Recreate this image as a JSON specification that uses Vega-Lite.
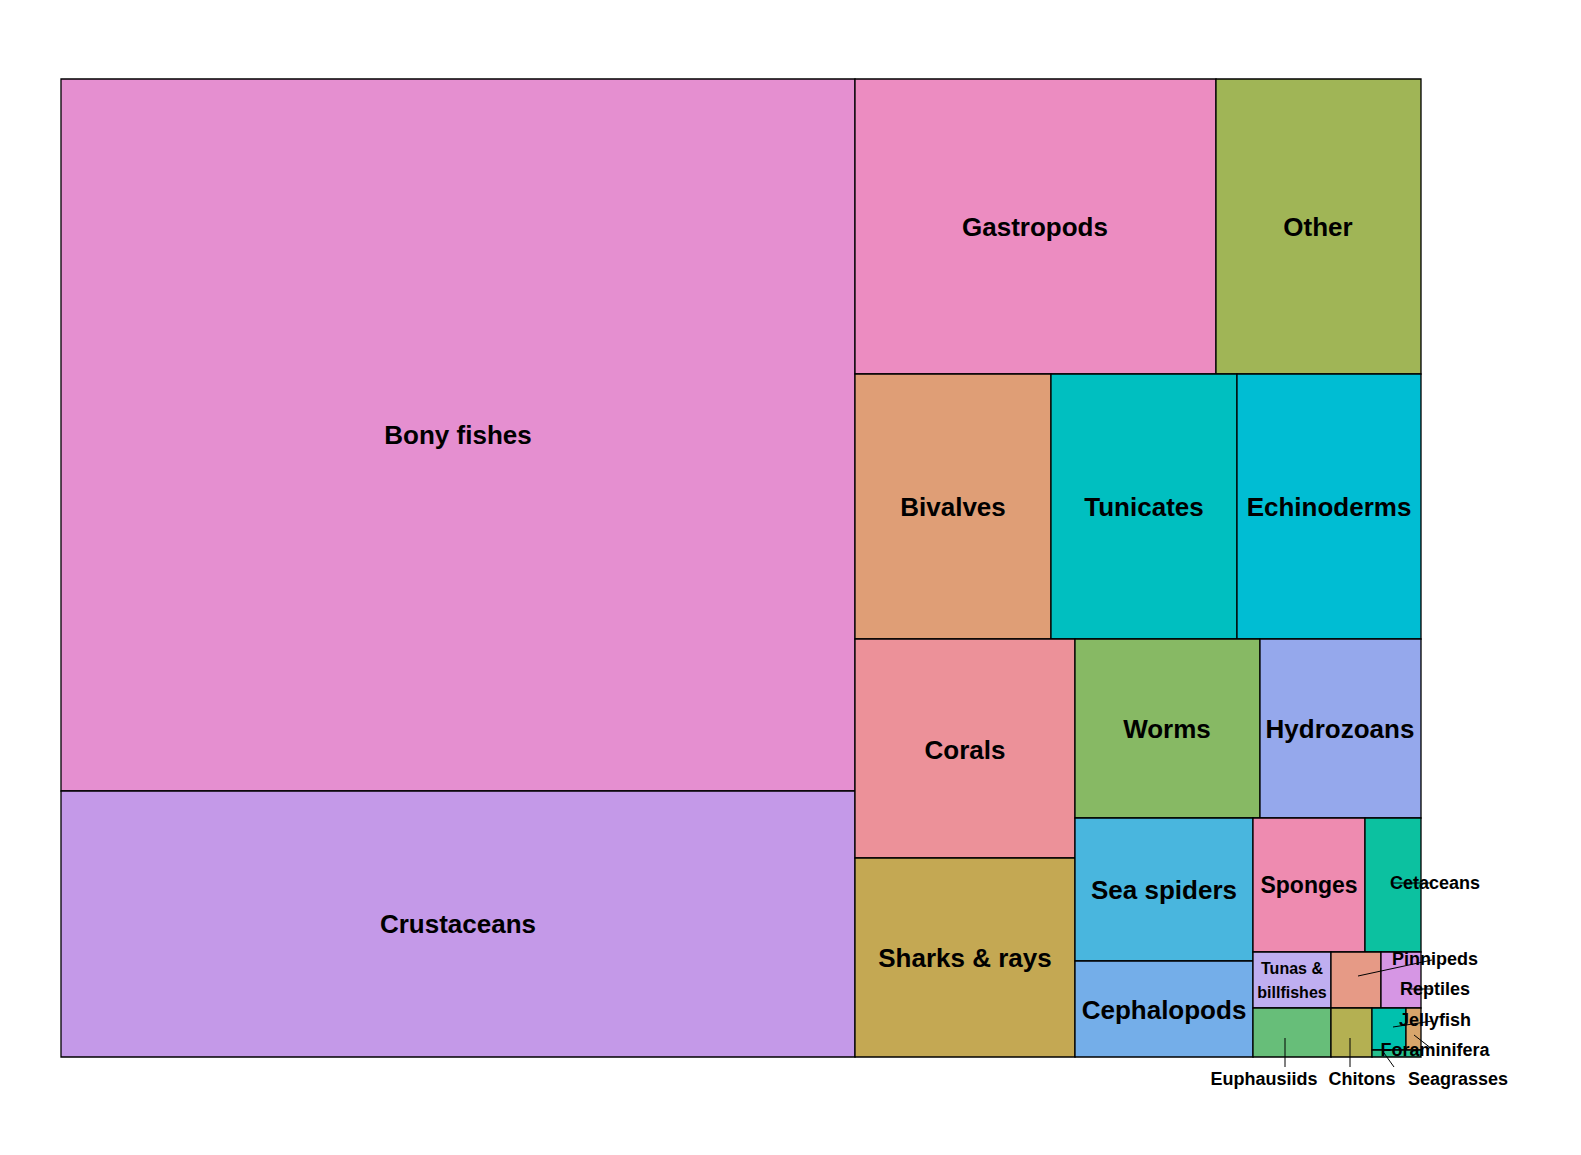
{
"$schema":"https://vega.github.io/schema/vega-lite/v6.json",
"width":1360,"height":978,"autosize":"none",
"padding":{"left":61,"top":79,"right":160,"bottom":98},
"background":"white",
"config":{"view":{"stroke":null},"font":"Liberation Sans"},
"datasets":{
"rects":[
{"g":"Bony fishes","x":61,"x2":855,"y":79,"y2":791},
{"g":"Crustaceans","x":61,"x2":855,"y":791,"y2":1057},
{"g":"Gastropods","x":855,"x2":1216,"y":79,"y2":374},
{"g":"Other","x":1216,"x2":1421,"y":79,"y2":374},
{"g":"Bivalves","x":855,"x2":1051,"y":374,"y2":639},
{"g":"Tunicates","x":1051,"x2":1237,"y":374,"y2":639},
{"g":"Echinoderms","x":1237,"x2":1421,"y":374,"y2":639},
{"g":"Corals","x":855,"x2":1075,"y":639,"y2":858},
{"g":"Sharks & rays","x":855,"x2":1075,"y":858,"y2":1057},
{"g":"Worms","x":1075,"x2":1260,"y":639,"y2":818},
{"g":"Hydrozoans","x":1260,"x2":1421,"y":639,"y2":818},
{"g":"Sea spiders","x":1075,"x2":1253,"y":818,"y2":961},
{"g":"Cephalopods","x":1075,"x2":1253,"y":961,"y2":1057},
{"g":"Sponges","x":1253,"x2":1365,"y":818,"y2":952},
{"g":"Cetaceans","x":1365,"x2":1421,"y":818,"y2":952},
{"g":"Tunas & billfishes","x":1253,"x2":1331,"y":952,"y2":1008},
{"g":"Pinnipeds","x":1331,"x2":1381,"y":952,"y2":1008},
{"g":"Reptiles","x":1381,"x2":1421,"y":952,"y2":1008},
{"g":"Euphausiids","x":1253,"x2":1331,"y":1008,"y2":1057},
{"g":"Chitons","x":1331,"x2":1372,"y":1008,"y2":1057},
{"g":"Jellyfish","x":1372,"x2":1406,"y":1008,"y2":1050},
{"g":"Foraminifera","x":1406,"x2":1421,"y":1008,"y2":1050},
{"g":"Seagrasses","x":1372,"x2":1421,"y":1050,"y2":1057}
],
"inner":[
{"t":"Bony fishes","x":458,"y":436},
{"t":"Crustaceans","x":458,"y":925},
{"t":"Gastropods","x":1035,"y":228},
{"t":"Other","x":1318,"y":228},
{"t":"Bivalves","x":953,"y":508},
{"t":"Tunicates","x":1144,"y":508},
{"t":"Echinoderms","x":1329,"y":508},
{"t":"Corals","x":965,"y":751},
{"t":"Sharks & rays","x":965,"y":959},
{"t":"Worms","x":1167,"y":730},
{"t":"Hydrozoans","x":1340,"y":730},
{"t":"Sea spiders","x":1164,"y":891},
{"t":"Cephalopods","x":1164,"y":1011}
],
"mid":[
{"t":"Sponges","x":1309,"y":886}
],
"small2":[
{"t":"Tunas &","x":1292,"y":969},
{"t":"billfishes","x":1292,"y":993}
],
"outer":[
{"t":"Cetaceans","x":1435,"y":884,"lx":1393,"ly":883,"lx2":1432,"ly2":883,"a":"left"},
{"t":"Pinnipeds","x":1435,"y":960,"lx":1358,"ly":976,"lx2":1432,"ly2":960,"a":"left"},
{"t":"Reptiles","x":1435,"y":990,"lx":1402,"ly":989,"lx2":1432,"ly2":989,"a":"left"},
{"t":"Jellyfish","x":1435,"y":1021,"lx":1393,"ly":1027,"lx2":1432,"ly2":1021,"a":"left"},
{"t":"Foraminifera","x":1435,"y":1051,"lx":1414,"ly":1035,"lx2":1432,"ly2":1049,"a":"left"},
{"t":"Euphausiids","x":1264,"y":1080,"lx":1285,"ly":1038,"lx2":1285,"ly2":1067,"a":"center"},
{"t":"Chitons","x":1362,"y":1080,"lx":1350,"ly":1038,"lx2":1350,"ly2":1067,"a":"center"},
{"t":"Seagrasses","x":1458,"y":1080,"lx":1384,"ly":1053,"lx2":1394,"ly2":1067,"a":"center"}
]
},
"layer":[
{"data":{"name":"rects"},"mark":{"type":"rect","stroke":"black","strokeWidth":1.3},
"encoding":{
"x":{"field":"x","type":"quantitative","scale":{"domain":[61,1421],"zero":false,"nice":false},"axis":null},
"x2":{"field":"x2"},
"y":{"field":"y","type":"quantitative","scale":{"domain":[1057,79],"zero":false,"nice":false},"axis":null},
"y2":{"field":"y2"},
"color":{"field":"g","type":"nominal","legend":null,"scale":{
"domain":["Bony fishes","Crustaceans","Gastropods","Other","Bivalves","Tunicates","Echinoderms","Corals","Sharks & rays","Worms","Hydrozoans","Sea spiders","Cephalopods","Sponges","Cetaceans","Tunas & billfishes","Pinnipeds","Reptiles","Euphausiids","Chitons","Jellyfish","Foraminifera","Seagrasses"],
"range":["#E58FD0","#C499E8","#EC8CC1","#A0B556","#DF9E76","#00BFC0","#00BDD3","#EC9199","#C4A853","#87B964","#95A8EC","#49B6DE","#74AEE9","#EE8BB0","#0CC1A0","#BFAEF0","#E69A86","#D696E4","#67BE79","#B4B052","#00C1AE","#D8A56B","#26BF8E"]}}}},
{"data":{"name":"inner"},"mark":{"type":"text","fontSize":26,"fontWeight":"bold","align":"center","baseline":"middle"},
"encoding":{"x":{"field":"x","type":"quantitative","scale":{"domain":[61,1421],"zero":false,"nice":false},"axis":null},"y":{"field":"y","type":"quantitative","scale":{"domain":[1057,79],"zero":false,"nice":false},"axis":null},"text":{"field":"t"}}},
{"data":{"name":"mid"},"mark":{"type":"text","fontSize":23,"fontWeight":"bold","align":"center","baseline":"middle"},
"encoding":{"x":{"field":"x","type":"quantitative","scale":{"domain":[61,1421],"zero":false,"nice":false},"axis":null},"y":{"field":"y","type":"quantitative","scale":{"domain":[1057,79],"zero":false,"nice":false},"axis":null},"text":{"field":"t"}}},
{"data":{"name":"small2"},"mark":{"type":"text","fontSize":16,"fontWeight":"bold","align":"center","baseline":"middle"},
"encoding":{"x":{"field":"x","type":"quantitative","scale":{"domain":[61,1421],"zero":false,"nice":false},"axis":null},"y":{"field":"y","type":"quantitative","scale":{"domain":[1057,79],"zero":false,"nice":false},"axis":null},"text":{"field":"t"}}},
{"data":{"name":"outer"},"mark":{"type":"rule","color":"black","strokeWidth":1},
"encoding":{"x":{"field":"lx","type":"quantitative","scale":{"domain":[61,1421],"zero":false,"nice":false},"axis":null},"y":{"field":"ly","type":"quantitative","scale":{"domain":[1057,79],"zero":false,"nice":false},"axis":null},"x2":{"field":"lx2"},"y2":{"field":"ly2"}}},
{"data":{"name":"outer"},"mark":{"type":"text","fontSize":18,"fontWeight":"bold","baseline":"middle"},
"encoding":{"x":{"field":"x","type":"quantitative","scale":{"domain":[61,1421],"zero":false,"nice":false},"axis":null},"y":{"field":"y","type":"quantitative","scale":{"domain":[1057,79],"zero":false,"nice":false},"axis":null},"text":{"field":"t"},"align":{"field":"a","type":"nominal","scale":null}}}
]
}
